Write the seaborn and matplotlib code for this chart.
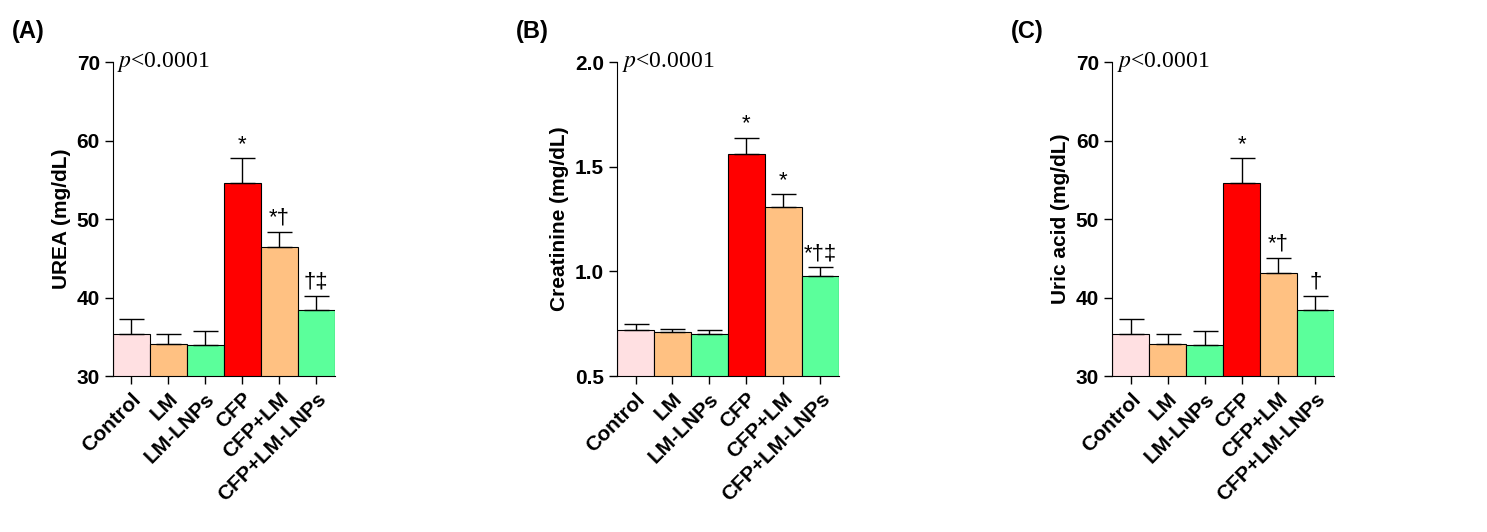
import matplotlib
matplotlib.use("Agg")
import matplotlib.pyplot as plt
import seaborn as sns
import pandas as pd
import numpy as np

groups = ["Control", "LM", "LM-LNPs", "CFP", "CFP+LM", "CFP+LM-LNPs"]
colors = ["#FFE0E2", "#FFC182", "#5BFF9B", "#FF0000", "#FFC182", "#5BFF9B"]

urea = [35.4, 34.1, 34.0, 54.6, 46.5, 38.4]
urea_err = [1.9, 1.3, 1.8, 3.2, 1.9, 1.8]
urea_sig = ["", "", "", "*", "*†", "†‡"]

creat = [0.72, 0.71, 0.70, 1.56, 1.31, 0.98]
creat_err = [0.03, 0.015, 0.02, 0.08, 0.06, 0.04]
creat_sig = ["", "", "", "*", "*", "*†‡"]

uric = [35.4, 34.1, 34.0, 54.6, 43.2, 38.4]
uric_err = [1.9, 1.3, 1.8, 3.2, 1.9, 1.8]
uric_sig = ["", "", "", "*", "*†", "†"]

panels = [
    ("(A)", "UREA (mg/dL)", urea, urea_err, urea_sig, (30, 70), [30, 40, 50, 60, 70], ["30", "40", "50", "60", "70"]),
    ("(B)", "Creatinine (mg/dL)", creat, creat_err, creat_sig, (0.5, 2.0), [0.5, 1.0, 1.5, 2.0], ["0.5", "1.0", "1.5", "2.0"]),
    ("(C)", "Uric acid (mg/dL)", uric, uric_err, uric_sig, (30, 70), [30, 40, 50, 60, 70], ["30", "40", "50", "60", "70"]),
]

sns.set_style("ticks")
plt.rcParams["font.family"] = ["Arial", "Liberation Sans", "DejaVu Sans"]
plt.rcParams["text.color"] = "black"
plt.rcParams["axes.labelcolor"] = "black"
plt.rcParams["xtick.color"] = "black"
plt.rcParams["ytick.color"] = "black"
plt.rcParams["axes.edgecolor"] = "black"
fig = plt.figure(figsize=(14.87, 5.32), dpi=100)
lefts = [0.076, 0.415, 0.748]
for (letter, ylab, vals, errs, sig, ylim, yt, ytl), left in zip(panels, lefts):
    ax = fig.add_axes([left, 0.293, 0.149, 0.59])
    df = pd.DataFrame({"g": groups, "v": vals})
    sns.barplot(data=df, x="g", y="v", hue="g", palette=colors, legend=False, saturation=1,
                edgecolor="black", linewidth=0.8, width=1.0, ax=ax)
    x = np.arange(len(groups))
    ax.errorbar(x, vals, yerr=[np.zeros(len(vals)), errs], fmt="none",
                ecolor="black", elinewidth=1, capsize=9, capthick=1)
    rng = ylim[1] - ylim[0]
    for xi, v, e, s in zip(x, vals, errs, sig):
        if s:
            ax.text(xi, v + e + rng * 0.01, s, ha="center", va="bottom", fontsize=16)
    ax.set_ylim(*ylim)
    ax.set_xlim(-0.5, 5.5)
    ax.set_yticks(yt)
    ax.set_yticklabels(ytl, fontsize=15, fontweight="bold")
    ax.set_xticks(x)
    ax.set_xticklabels(groups, rotation=45, ha="right", rotation_mode="anchor",
                       fontsize=15, fontweight="bold")
    ax.set_xlabel("")
    ax.set_ylabel(ylab, fontsize=15, fontweight="bold")
    sns.despine(ax=ax)
    ax.tick_params(width=1, length=6)
    ax.text(0.02, 1.0, r"$p$<0.0001", transform=ax.transAxes, ha="left", va="center",
            fontsize=17, family="Liberation Serif", math_fontfamily="stix")
    fig.text(left - 0.068, 0.94, letter, fontsize=17, fontweight="bold", ha="left", va="center")

fig.savefig("out.png", dpi=100)
